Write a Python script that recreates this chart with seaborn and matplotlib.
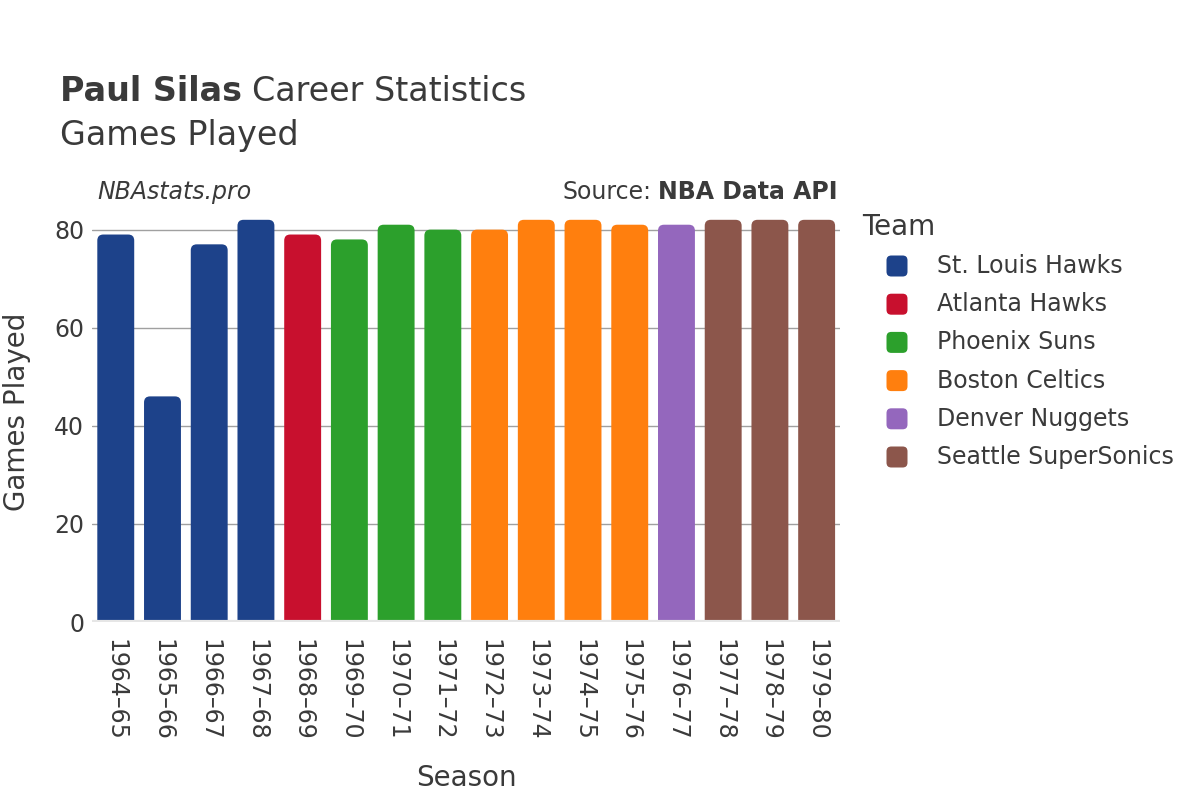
import matplotlib
matplotlib.use("Agg")
import matplotlib.pyplot as plt
from matplotlib.patches import FancyBboxPatch
import seaborn as sns
import pandas as pd

# data
seasons = ["1964–65", "1965–66", "1966–67", "1967–68", "1968–69", "1969–70",
           "1970–71", "1971–72", "1972–73", "1973–74", "1974–75", "1975–76",
           "1976–77", "1977–78", "1978–79", "1979–80"]
games = [79, 46, 77, 82, 79, 78, 81, 80, 80, 82, 82, 81, 81, 82, 82, 82]
teams = ["St. Louis Hawks"] * 4 + ["Atlanta Hawks"] + ["Phoenix Suns"] * 3 + \
        ["Boston Celtics"] * 4 + ["Denver Nuggets"] + ["Seattle SuperSonics"] * 3
team_order = ["St. Louis Hawks", "Atlanta Hawks", "Phoenix Suns",
              "Boston Celtics", "Denver Nuggets", "Seattle SuperSonics"]
team_colors = {
    "St. Louis Hawks": "#1d428a",
    "Atlanta Hawks": "#c8102e",
    "Phoenix Suns": "#2ca02c",
    "Boston Celtics": "#ff7f0e",
    "Denver Nuggets": "#9467bd",
    "Seattle SuperSonics": "#8c564b",
}

df = pd.DataFrame({"Season": seasons, "Games": games, "Team": teams})

sns.set_theme(style="white")
plt.rcParams["font.family"] = ["DejaVu Sans"]
text_color = "#3a3a3a"
W, H = 1200, 800

fig = plt.figure(figsize=(12, 8), dpi=100)
ax_box = [0.077, 0.2225, 0.623, 0.515]
ax = fig.add_axes(ax_box)

sns.barplot(data=df, x="Season", y="Games", hue="Team", hue_order=team_order,
            palette=team_colors, dodge=False, width=0.79, legend=False, ax=ax,
            saturation=1)

ax.set_ylim(0, 84)
ax.set_xlim(-0.5, len(seasons) - 0.5)

# pixel size of one data unit, for rounding the bar corners evenly
px_x = ax_box[2] * W / len(seasons)
px_y = ax_box[3] * H / 84
r = 6 / px_x  # ~6px radius
aspect = px_x / px_y

for p in list(ax.patches):
    x, y = p.get_x(), p.get_y()
    w, h = p.get_width(), p.get_height()
    fc = p.get_facecolor()
    p.remove()
    if h <= 0:
        continue
    ext = r * aspect  # push bottom rounding below zero so it gets clipped
    rb = FancyBboxPatch((x, y - ext), w, h + ext,
                        boxstyle=f"round,pad=0,rounding_size={r}",
                        mutation_aspect=aspect,
                        facecolor=fc, edgecolor="none", zorder=2)
    ax.add_patch(rb)

ax.set_yticks([0, 20, 40, 60, 80])
ax.yaxis.grid(True, color="#a0a0a0", linewidth=1, zorder=0)
ax.set_axisbelow(True)
ax.axhline(0, color="#e6e6e6", linewidth=3, zorder=3)
for s in ax.spines.values():
    s.set_visible(False)

ax.tick_params(axis="x", labelrotation=270, labelsize=17, colors=text_color, pad=12, length=0)
ax.tick_params(axis="y", labelsize=17, colors=text_color, pad=6, length=0)
for lbl in ax.get_xticklabels():
    lbl.set_va("top")
ax.set_xlabel("Season", fontsize=20, color=text_color, labelpad=17)
ax.set_ylabel("Games Played", fontsize=20, color=text_color)
ax.yaxis.set_label_coords((31 - ax_box[0] * W) / (ax_box[2] * W), 0.51)

# titles
t1 = fig.text(60 / W, 1 - 101 / H, "Paul Silas", fontsize=24, fontweight="bold",
              color=text_color, va="baseline")
fig.canvas.draw()
bb = t1.get_window_extent(renderer=fig.canvas.get_renderer())
fig.text((bb.x1 + 10) / W, 1 - 101 / H, "Career Statistics", fontsize=24,
         color=text_color, va="baseline")
fig.text(60 / W, 1 - 145 / H, "Games Played", fontsize=24, color=text_color,
         va="baseline")

fig.text(97 / W, 1 - 199 / H, "NBAstats.pro", fontsize=17, style="italic",
         color=text_color, va="baseline")
src = fig.text(838 / W, 1 - 199 / H, "NBA Data API", fontsize=17, fontweight="bold",
               color=text_color, va="baseline", ha="right")
fig.canvas.draw()
sb = src.get_window_extent(renderer=fig.canvas.get_renderer())
fig.text((sb.x0 - 7) / W, 1 - 199 / H, "Source:", fontsize=17, color=text_color,
         va="baseline", ha="right")

# legend, laid out by hand like the reference
fig.text(862 / W, 1 - 227 / H, "Team", fontsize=20, color=text_color, va="center")
for i, t in enumerate(team_order):
    yc = 266 + 38.2 * i
    sq = 21
    fig.patches.append(FancyBboxPatch(((897 - sq / 2) / W, 1 - (yc + sq / 2) / H),
                                      sq / W, sq / H,
                                      boxstyle="round,pad=0,rounding_size=0.004",
                                      mutation_aspect=W / H,
                                      transform=fig.transFigure,
                                      facecolor=team_colors[t], edgecolor="none"))
    fig.text(937 / W, 1 - yc / H, t, fontsize=17, color=text_color, va="center")

fig.savefig("out.png", dpi=100)
